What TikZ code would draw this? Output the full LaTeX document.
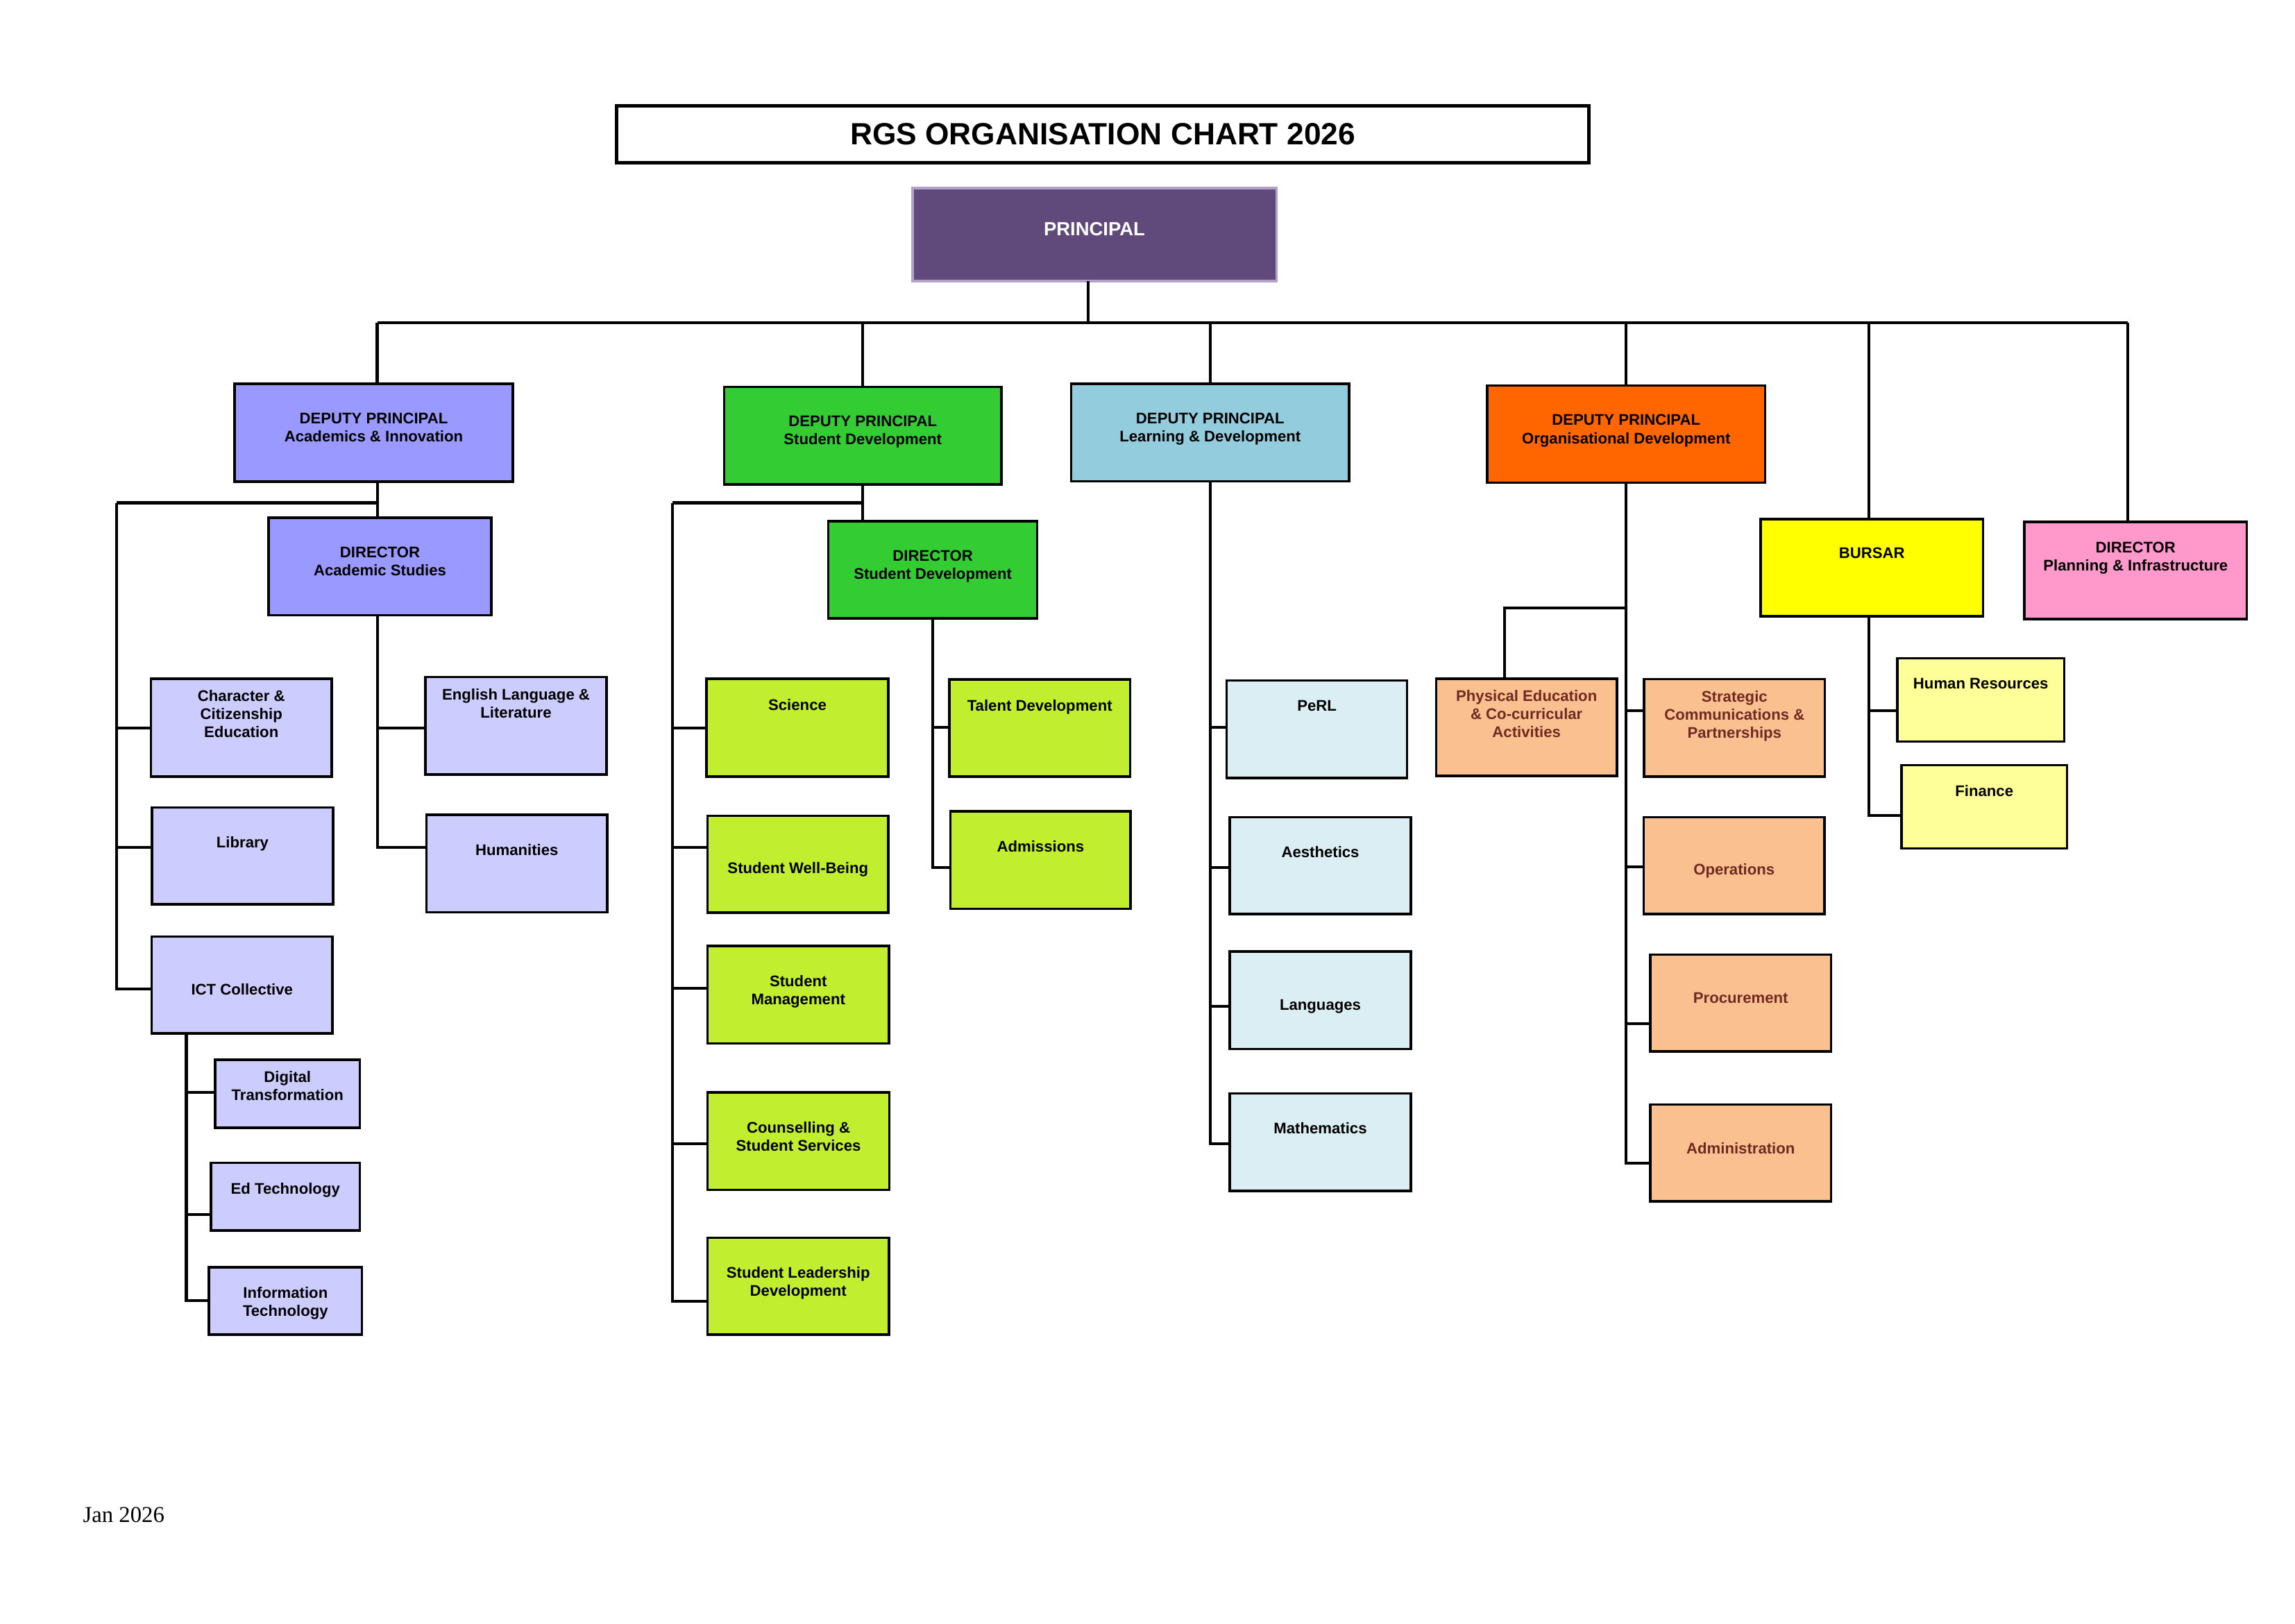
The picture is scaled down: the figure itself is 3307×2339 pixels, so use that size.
\documentclass[tikz,border=0pt]{standalone}
\usepackage{fontspec}
\setmainfont{Liberation Sans}
\newfontfamily\datefont{Liberation Serif}
\usetikzlibrary{calc}
\definecolor{cPrin}{HTML}{604A7B}
\definecolor{cPrinLine}{HTML}{B3A2C7}
\definecolor{cDPA}{HTML}{9999FF}
\definecolor{cAc}{HTML}{CCCCFF}
\definecolor{cDPS}{HTML}{33CC33}
\definecolor{cSd}{HTML}{C2EE30}
\definecolor{cDPL}{HTML}{93CDDD}
\definecolor{cLd}{HTML}{DAEEF3}
\definecolor{cDPO}{HTML}{FF6600}
\definecolor{cOd}{HTML}{FAC090}
\definecolor{cOdText}{HTML}{702A22}
\definecolor{cBur}{HTML}{FFFF00}
\definecolor{cBs}{HTML}{FFFF99}
\definecolor{cDirP}{HTML}{FF99CC}
\tikzset{
  conn/.style={line width=1.15pt, draw=black},
  orgbox/.style={rectangle, draw=black, line width=0.95pt, inner sep=0pt, outer sep=0pt},
  lbl/.style={inner sep=0pt, outer sep=0pt, align=center, text=black,
              font=\fontsize{6.3pt}{7.4pt}\selectfont\bfseries},
  bPrin/.style={orgbox, fill=cPrin, draw=cPrinLine},
  bDPA/.style={orgbox, fill=cDPA},
  bAc/.style={orgbox, fill=cAc},
  bDPS/.style={orgbox, fill=cDPS},
  bSd/.style={orgbox, fill=cSd},
  bDPL/.style={orgbox, fill=cDPL},
  bLd/.style={orgbox, fill=cLd},
  bDPO/.style={orgbox, fill=cDPO},
  bOd/.style={orgbox, fill=cOd},
  bBur/.style={orgbox, fill=cBur},
  bBs/.style={orgbox, fill=cBs},
  bDirP/.style={orgbox, fill=cDirP},
  odtext/.style={text=cOdText}
}
% #1 label options, #2 box style, #3 name, #4 x1, #5 y1, #6 x2, #7 y2, #8 first line centre y, #9 text
\newcommand\orgbox[9][]{%
  \pgfmathsetmacro\obcx{(#4+#6)/2}%
  \pgfmathsetmacro\obcy{(#5+#7)/2}%
  \pgfmathsetmacro\obw{(#6-#4)/100}%
  \pgfmathsetmacro\obh{(#7-#5)/100}%
  \node[#2, minimum width=\obw cm, minimum height=\obh cm] (#3) at (\obcx,\obcy) {};%
  \node[lbl,#1, anchor=north] (#3-t) at (\obcx,#8-8) {#9};%
}
% branch connector: #1 child, #2 vertical offset (px) from child centre, #3 trunk point
\newcommand\brconn[3]{\draw[conn] ($(#1.west)+(0,#2)$) -| (#3);}
\begin{document}
\begin{tikzpicture}[x=0.01cm,y=-0.01cm]
\useasboundingbox (0,0) rectangle (3307,2339);

% title
\node[draw=black, line width=1.35pt, minimum width=14cm, minimum height=0.815cm, inner sep=0pt,
      font=\fontsize{12.6pt}{15pt}\selectfont\bfseries] (title) at (1589,193.5) {RGS ORGANISATION CHART 2026};

% top level
\orgbox[text=white,font=\fontsize{7.8pt}{9pt}\selectfont\bfseries]{bPrin}{prin}{1315}{271}{1839}{405}{328}{PRINCIPAL}
\orgbox{bDPA}{dpa}{338}{553}{739}{694}{603}{DEPUTY PRINCIPAL\\Academics \& Innovation}
\orgbox{bDPS}{dps}{1043.5}{557.5}{1443}{698}{606.6}{DEPUTY PRINCIPAL\\Student Development}
\orgbox{bDPL}{dpl}{1543.7}{553}{1944}{693.6}{603}{DEPUTY PRINCIPAL\\Learning \& Development}
\orgbox{bDPO}{dpo}{2143}{555.4}{2543.4}{695.5}{605.5}{DEPUTY PRINCIPAL\\Organisational Development}
\orgbox{bBur}{bur}{2537}{748}{2857.5}{888}{797}{BURSAR}
\orgbox{bDirP}{dirp}{2917}{752}{3237.5}{892}{789}{DIRECTOR\\Planning \& Infrastructure}
\orgbox{bDPA}{dira}{387}{746}{708}{886.5}{796}{DIRECTOR\\Academic Studies}
\orgbox{bDPS}{dirs}{1193.6}{751}{1494.6}{891}{801}{DIRECTOR\\Student Development}

% academics
\orgbox{bAc}{cce}{217.5}{978}{478}{1119}{1002}{Character \&\\Citizenship\\Education}
\orgbox{bAc}{lib}{219}{1163.6}{480}{1303}{1213}{Library}
\orgbox{bAc}{ict}{218.5}{1349.5}{479}{1489}{1425}{ICT Collective}
\orgbox{bAc}{ell}{613}{975.6}{874}{1116}{1000}{English Language \&\\Literature}
\orgbox{bAc}{hum}{614.5}{1174}{875}{1314.5}{1224}{Humanities}
\orgbox{bAc}{dt}{310}{1527}{518.5}{1625}{1551.5}{Digital\\Transformation}
\orgbox{bAc}{edt}{304}{1675.6}{518.5}{1773}{1712.6}{Ed Technology}
\orgbox{bAc}{it}{301}{1826}{521.7}{1923}{1862.5}{Information\\Technology}

% student development
\orgbox{bSd}{sci}{1018}{978}{1280}{1119}{1015.6}{Science}
\orgbox{bSd}{swb}{1019.6}{1175.6}{1280}{1315}{1250}{Student Well-Being}
\orgbox{bSd}{sm}{1019.5}{1363}{1281}{1503.5}{1413}{Student\\Management}
\orgbox{bSd}{css}{1019.5}{1574}{1281.6}{1714.5}{1624.6}{Counselling \&\\Student Services}
\orgbox{bSd}{sld}{1019.5}{1783.4}{1281}{1923}{1833}{Student Leadership\\Development}
\orgbox{bSd}{td}{1368}{979}{1628.5}{1119}{1016}{Talent Development}
\orgbox{bSd}{adm}{1369.7}{1169}{1629}{1309.5}{1219}{Admissions}

% learning and development
\orgbox{bLd}{perl}{1767.5}{980.5}{2027.7}{1121}{1017}{PeRL}
\orgbox{bLd}{aes}{1772}{1177.7}{2033}{1317}{1227.5}{Aesthetics}
\orgbox{bLd}{lang}{1772}{1371}{2033}{1511.6}{1448}{Languages}
\orgbox{bLd}{math}{1772}{1575.5}{2033}{1716}{1625}{Mathematics}

% organisational development
\orgbox[odtext]{bOd}{pe}{2069.4}{978}{2330}{1118}{1002.7}{Physical Education\\\& Co-curricular\\Activities}
\orgbox[odtext]{bOd}{scp}{2369}{978.6}{2629.6}{1119}{1003.5}{Strategic\\Communications \&\\Partnerships}
\orgbox[odtext]{bOd}{ops}{2368.4}{1177.7}{2629}{1317}{1252.5}{Operations}
\orgbox[odtext]{bOd}{proc}{2378}{1375.5}{2638.5}{1515}{1438}{Procurement}
\orgbox[odtext]{bOd}{admin}{2378}{1591.6}{2638.5}{1731}{1654.7}{Administration}

% bursar
\orgbox{bBs}{hr}{2734}{948.6}{2974.4}{1068.5}{985}{Human Resources}
\orgbox{bBs}{fin}{2740}{1102.5}{2978.4}{1222.5}{1139.5}{Finance}

% connector attachment points on the boxes
\coordinate (pDrop) at ($(prin.south)+(-9,0)$);
\coordinate (dpaTop) at ($(dpa.north)+(5,0)$);
\coordinate (dpaBot) at ($(dpa.south)+(5.5,0)$);
\coordinate (diraBot) at ($(dira.south)+(-3.5,0)$);
\coordinate (burTop) at ($(bur.north)+(-4,0)$);
\coordinate (burBot) at ($(bur.south)+(-4,0)$);
\coordinate (dirpTop) at ($(dirp.north)+(-11,0)$);

% connectors: top bus
\coordinate (busL) at (543.5,465);
\coordinate (busR) at (3066,465);
\draw[conn] (busL) -- (busR);
\draw[conn] (pDrop) -- (pDrop |- busL);
\draw[conn] (dpaTop |- busL) -- (dpaTop);
\foreach \n in {dps,dpl,dpo}{\draw[conn] (\n.north |- busL) -- (\n.north);}
\draw[conn] (burTop |- busL) -- (burTop);
\draw[conn] (dirpTop |- busL) -- (dirpTop);

% academics
\draw[conn] (dpaBot) -- (dpaBot |- dira.north);
\coordinate (aL) at (168,724.5);
\draw[conn] (aL) -- (aL -| dpaBot);
\brconn{cce}{0.5}{aL}
\brconn{lib}{-12.3}{aL}
\brconn{ict}{5.75}{aL}
\brconn{ell}{3.2}{diraBot}
\brconn{hum}{-23.25}{diraBot}
\coordinate (ictT) at (268.5,1489);
\brconn{dt}{-2}{ictT}
\brconn{edt}{25.3}{ictT}
\brconn{it}{-0.5}{ictT}

% student development
\draw[conn] (dps.south) -- (dps.south |- dirs.north);
\coordinate (sL) at (969,724.5);
\draw[conn] (sL) -- (sL -| dps.south);
\brconn{sci}{0.5}{sL}
\brconn{swb}{-24.3}{sL}
\brconn{sm}{-9.25}{sL}
\brconn{css}{3.75}{sL}
\brconn{sld}{21.8}{sL}
\brconn{td}{-1}{dirs.south}
\brconn{adm}{10.75}{dirs.south}

% learning and development
\brconn{perl}{-2.75}{dpl.south}
\brconn{aes}{2.65}{dpl.south}
\brconn{lang}{8.7}{dpl.south}
\brconn{math}{2.25}{dpl.south}

% organisational development
\brconn{scp}{-24.8}{dpo.south}
\brconn{ops}{1.65}{dpo.south}
\brconn{proc}{29.25}{dpo.south}
\brconn{admin}{14.7}{dpo.south}
\draw[conn] ($(pe.north)+(-32.2,0)$) |- ($(dpo.south)+(0,180)$);

% bursar
\brconn{hr}{15.45}{burBot}
\brconn{fin}{12.5}{burBot}

% date
\node[anchor=base west, inner sep=0pt, font=\datefont\fontsize{9.3pt}{11pt}\selectfont] (date) at (119,2193) {Jan 2026};
\end{tikzpicture}
\end{document}
